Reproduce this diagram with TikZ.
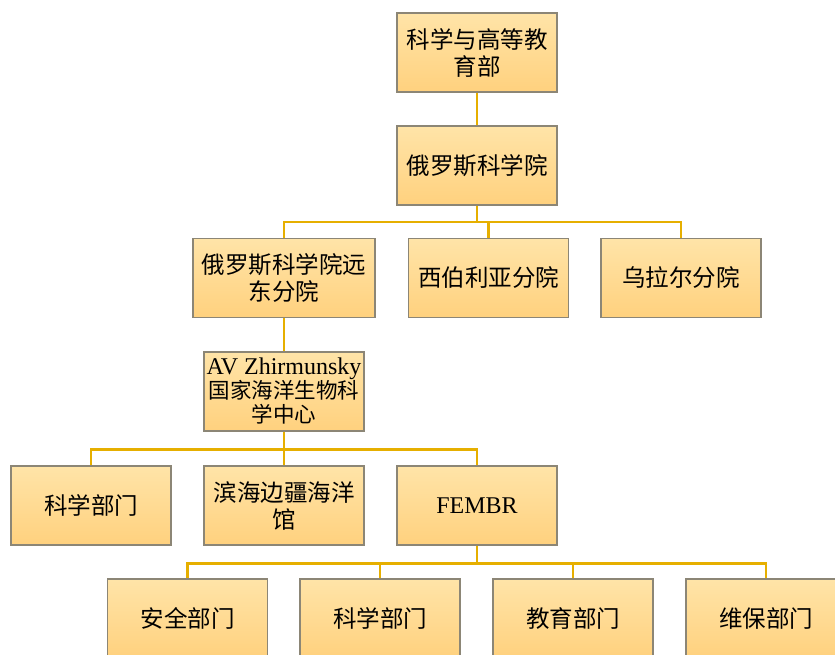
\documentclass[tikz,border=0pt]{standalone}
\usepackage{fontspec}
\setmainfont{Liberation Serif}
\newfontfamily\cjk{Noto Sans CJK SC}
\usepackage{xcolor}
\usetikzlibrary{positioning}
\definecolor{orgtop}{RGB}{255,228,168}
\definecolor{orgbot}{RGB}{255,209,126}
\definecolor{orgline}{RGB}{140,134,118}
\definecolor{orggold}{RGB}{230,175,0}

\begin{document}
\begin{tikzpicture}[x=1pt, y=-1pt,
  unit/.style={rectangle, draw=orgline, line width=1.2pt, top color=orgtop,
    bottom color=orgbot, minimum width=160pt, minimum height=79pt, inner sep=0pt,
    align=center, font=\fontsize{23.5}{27}\selectfont\cjk},
  link/.style={draw=orggold, line width=2.8pt}]
\useasboundingbox (0,0) rectangle (835,655);
\clip (0,0) rectangle (835,655);

% top levels
\node[unit] (moe) at (477,52.5) {科学与高等教\\育部};
\node[unit] (ras) at (477,165.5) {俄罗斯科学院};

% branches
\node[unit, minimum width=182pt] (feb) at (284,278) {俄罗斯科学院远\\东分院};
\node[unit] (sib) at (488.5,278) {西伯利亚分院};
\node[unit] (ural) at (681,278) {乌拉尔分院};

% centre and its parts
\node[unit, font=\fontsize{21.5}{24}\selectfont\cjk] (avz) at (284,391.5)
  {{\fontsize{24}{24}\selectfont\rmfamily AV Zhirmunsky}\\国家海洋生物科\\学中心};
\node[unit] (sci) at (91,505.5) {科学部门};
\node[unit] (aqua) at (284,505.5) {滨海边疆海洋\\馆};
\node[unit, font=\fontsize{24}{27}\selectfont\rmfamily] (fembr) at (477,505.5) {FEMBR};

% departments
\node[unit] (safe) at (187.5,618.5) {安全部门};
\node[unit] (sci2) at (380,618.5) {科学部门};
\node[unit] (edu) at (573,618.5) {教育部门};
\node[unit] (maint) at (766,618.5) {维保部门};

\begin{scope}[on background layer/.try]
\draw[link] (moe.south) -- (ras.north);
\foreach \c in {feb,sib,ural}
  \draw[link] (ras.south) -- ++(0,16.5) -| (\c.north);
\draw[link] (feb.south) -- (avz.north);
\foreach \c in {sci,aqua,fembr}
  \draw[link] (avz.south) -- ++(0,17.5) -| (\c.north);
\foreach \c in {safe,sci2,edu,maint}
  \draw[link] (fembr.south) -- ++(0,17.5) -| (\c.north);
\end{scope}
\end{tikzpicture}
\end{document}
